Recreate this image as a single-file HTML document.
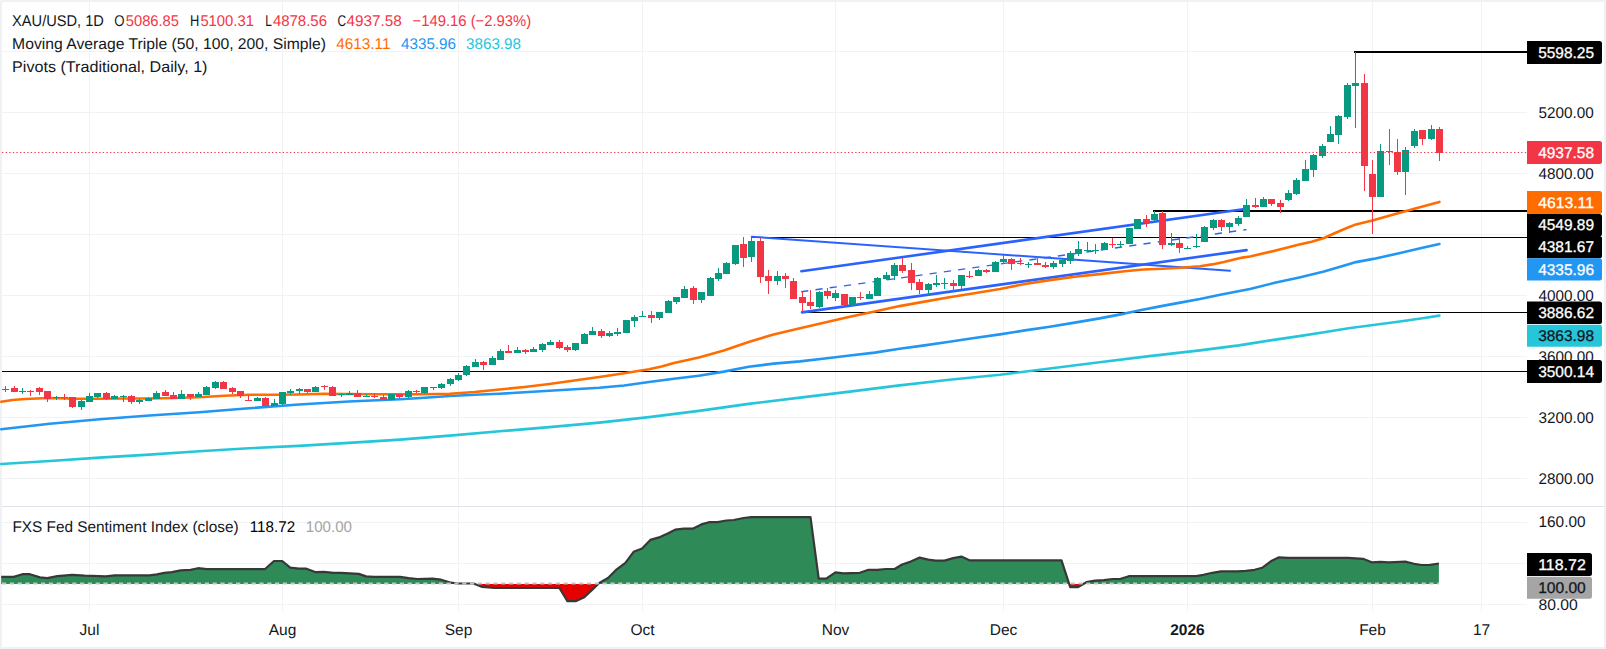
<!DOCTYPE html>
<html lang="en"><head><meta charset="utf-8"><title>XAU/USD 1D chart</title>
<style>html,body{margin:0;padding:0;background:#fff}body{width:1606px;height:649px;overflow:hidden}svg{display:block}</style>
</head><body>
<svg width="1606" height="649" viewBox="0 0 1606 649" font-family='"Liberation Sans", sans-serif' font-size="15.5" text-rendering="geometricPrecision">
<rect x="0" y="0" width="1606" height="649" fill="#eff1f5"/>
<rect x="2" y="2" width="1602" height="645" fill="#ffffff"/>
<rect x="0" y="0" width="1" height="1" fill="#f8f9fb"/>
<g stroke="#f0f2f3" stroke-width="1" shape-rendering="crispEdges">
<line x1="89.5" y1="2" x2="89.5" y2="610.5"/>
<line x1="282.5" y1="2" x2="282.5" y2="610.5"/>
<line x1="458.5" y1="2" x2="458.5" y2="610.5"/>
<line x1="642.5" y1="2" x2="642.5" y2="610.5"/>
<line x1="835.5" y1="2" x2="835.5" y2="610.5"/>
<line x1="1003.5" y1="2" x2="1003.5" y2="610.5"/>
<line x1="1187.5" y1="2" x2="1187.5" y2="610.5"/>
<line x1="1372.5" y1="2" x2="1372.5" y2="610.5"/>
<line x1="1481.5" y1="2" x2="1481.5" y2="610.5"/>
<line x1="2" y1="51.5" x2="1527" y2="51.5"/>
<line x1="2" y1="112.5" x2="1527" y2="112.5"/>
<line x1="2" y1="173.5" x2="1527" y2="173.5"/>
<line x1="2" y1="234.5" x2="1527" y2="234.5"/>
<line x1="2" y1="295.5" x2="1527" y2="295.5"/>
<line x1="2" y1="356.5" x2="1527" y2="356.5"/>
<line x1="2" y1="417.5" x2="1527" y2="417.5"/>
<line x1="2" y1="478.5" x2="1527" y2="478.5"/>
<line x1="2" y1="522" x2="1527" y2="522"/>
<line x1="2" y1="563.5" x2="1527" y2="563.5"/>
<line x1="2" y1="604.5" x2="1527" y2="604.5"/>
</g>
<line x1="2" y1="506.5" x2="1604" y2="506.5" stroke="#e0e3eb" stroke-width="1" shape-rendering="crispEdges"/>
<g stroke="#000" shape-rendering="crispEdges">
<line x1="1354" y1="52" x2="1527" y2="52" stroke-width="2"/>
<line x1="1153" y1="211" x2="1527" y2="211" stroke-width="2"/>
<line x1="751.5" y1="237.5" x2="1527" y2="237.5" stroke-width="1"/>
<line x1="802" y1="312.5" x2="1527" y2="312.5" stroke-width="1"/>
<line x1="2" y1="371.5" x2="1527" y2="371.5" stroke-width="1"/>
</g>
<g stroke="#2962ff" stroke-width="2.6" fill="none" stroke-linecap="round">
<line x1="751.7" y1="236.7" x2="1230" y2="270.8" stroke-width="2"/>
<line x1="801.4" y1="271.3" x2="1245" y2="209"/>
<line x1="802" y1="312.4" x2="1246.6" y2="250.1"/>
<line x1="801.2" y1="291.8" x2="1246.6" y2="229.6" stroke-width="1.4" stroke-dasharray="7.2 7.2" stroke-linecap="butt"/>
</g>
<path d="M1.2,464.0 L49.8,461.0 L99.6,457.6 L149.4,454.6 L199.3,451.3 L249.0,448.3 L298.9,445.9 L348.7,442.9 L400.0,439.6 L449.8,435.6 L499.6,431.3 L549.4,427.1 L599.3,422.6 L649.0,417.1 L698.9,410.9 L748.7,403.9 L800.0,397.6 L849.8,391.6 L899.6,385.4 L949.4,379.8 L1000.0,374.8 L1049.8,368.5 L1099.6,362.3 L1149.4,356.1 L1200.0,350.4 L1238.9,345.4 L1272.2,340.1 L1299.3,336.1 L1324.0,332.2 L1348.6,328.2 L1373.3,325.0 L1398.0,321.8 L1422.6,318.3 L1439.4,315.6" fill="none" stroke="#26c6da" stroke-width="2.6" stroke-linejoin="round" stroke-linecap="round"/>
<path d="M1.2,429.2 L49.8,423.7 L99.6,419.2 L149.4,415.5 L199.3,412.2 L249.0,408.2 L298.9,404.5 L348.7,401.5 L400.0,399.3 L424.9,397.7 L449.8,396.0 L474.7,394.7 L499.6,393.7 L524.5,392.2 L549.4,390.7 L574.3,389.2 L599.3,387.7 L624.2,385.5 L649.0,382.0 L674.0,378.8 L698.9,375.8 L723.8,371.6 L748.7,366.8 L773.6,363.6 L800.0,361.4 L824.9,358.5 L849.8,355.5 L874.7,352.6 L899.6,348.8 L924.5,345.4 L949.4,341.8 L974.3,338.0 L1000.0,334.4 L1024.9,330.4 L1049.8,326.7 L1074.7,322.6 L1099.6,318.4 L1124.5,313.6 L1140.1,310.2 L1160.0,306.4 L1180.2,302.6 L1200.0,299.0 L1220.2,294.8 L1250.0,289.0 L1274.7,282.8 L1299.3,277.4 L1324.0,271.5 L1348.6,264.3 L1356.0,262.1 L1373.3,258.9 L1398.0,253.5 L1422.6,247.8 L1439.4,244.1" fill="none" stroke="#2196f3" stroke-width="2.6" stroke-linejoin="round" stroke-linecap="round"/>
<path d="M1.2,401.8 L12.5,400.0 L24.9,399.0 L49.8,398.0 L74.7,398.8 L99.6,398.8 L124.5,398.5 L149.4,398.5 L174.3,398.0 L199.3,397.3 L224.2,395.8 L249.0,394.8 L274.0,394.8 L298.9,394.5 L323.8,393.8 L348.7,394.0 L373.6,394.3 L400.0,394.3 L424.9,394.2 L449.8,393.7 L474.7,392.0 L499.6,389.5 L524.5,387.0 L549.4,384.0 L574.3,380.5 L599.3,377.0 L624.2,373.3 L649.0,369.3 L661.5,366.6 L674.0,363.1 L698.9,357.4 L723.8,350.6 L748.7,341.9 L773.6,334.4 L800.0,328.3 L824.9,322.5 L849.8,316.8 L874.7,311.4 L899.6,306.1 L924.5,301.6 L949.4,297.3 L974.3,293.2 L1000.0,289.0 L1024.9,284.0 L1049.8,280.1 L1074.7,276.8 L1099.6,274.1 L1124.5,271.2 L1143.2,269.5 L1161.9,268.7 L1180.6,267.8 L1200.0,266.2 L1212.0,264.4 L1224.0,262.0 L1242.4,257.6 L1250.0,256.5 L1274.7,250.8 L1299.3,244.6 L1311.7,241.7 L1324.0,238.0 L1336.3,232.5 L1348.6,227.3 L1356.0,224.4 L1373.3,220.2 L1398.0,213.3 L1422.6,206.6 L1439.4,201.9" fill="none" stroke="#ff6d00" stroke-width="2.6" stroke-linejoin="round" stroke-linecap="round"/>
<path d="M5,386h1v6h-1zM2,389h7v1h-7zM22,388h1v6h-1zM19,391h7v1h-7zM56,396h1v4h-1zM53,397h7v1h-7zM81,400h1v10h-1zM78,401h7v6h-7zM89,393h1v9h-1zM86,396h7v6h-7zM97,393h1v5h-1zM94,393h7v4h-7zM114,395h1v4h-1zM111,396h7v3h-7zM123,395h1v7h-1zM120,396h7v1h-7zM139,399h1v5h-1zM136,400h7v2h-7zM148,397h1v4h-1zM145,398h7v3h-7zM156,391h1v8h-1zM153,393h7v6h-7zM181,390h1v9h-1zM178,394h7v5h-7zM198,392h1v5h-1zM195,394h7v3h-7zM206,386h1v9h-1zM203,387h7v8h-7zM215,381h1v8h-1zM212,382h7v6h-7zM257,397h1v4h-1zM254,398h7v3h-7zM274,399h1v7h-1zM271,403h7v3h-7zM282,392h1v13h-1zM279,392h7v12h-7zM290,389h1v6h-1zM287,391h7v2h-7zM299,388h1v6h-1zM296,389h7v2h-7zM315,386h1v6h-1zM312,387h7v5h-7zM341,393h1v4h-1zM338,394h7v1h-7zM349,391h1v4h-1zM346,393h7v2h-7zM366,394h1v3h-1zM363,396h7v1h-7zM391,394h1v6h-1zM388,394h7v6h-7zM408,390h1v8h-1zM405,391h7v6h-7zM424,387h1v7h-1zM421,387h7v6h-7zM433,387h1v3h-1zM430,387h7v1h-7zM441,383h1v6h-1zM438,384h7v4h-7zM450,378h1v8h-1zM447,379h7v5h-7zM458,373h1v8h-1zM455,375h7v5h-7zM466,365h1v11h-1zM463,366h7v9h-7zM475,359h1v8h-1zM472,362h7v5h-7zM492,356h1v9h-1zM489,358h7v7h-7zM500,349h1v11h-1zM497,351h7v9h-7zM517,347h1v6h-1zM514,350h7v3h-7zM533,347h1v5h-1zM530,349h7v3h-7zM542,343h1v9h-1zM539,344h7v6h-7zM550,340h1v5h-1zM547,342h7v3h-7zM575,343h1v8h-1zM572,343h7v7h-7zM584,333h1v11h-1zM581,334h7v10h-7zM592,327h1v8h-1zM589,331h7v4h-7zM609,331h1v6h-1zM606,333h7v3h-7zM617,328h1v8h-1zM614,332h7v2h-7zM626,320h1v13h-1zM623,320h7v13h-7zM634,315h1v12h-1zM631,317h7v4h-7zM642,311h1v6h-1zM639,316h7v1h-7zM659,312h1v8h-1zM656,312h7v6h-7zM668,300h1v13h-1zM665,301h7v12h-7zM676,297h1v7h-1zM673,297h7v5h-7zM684,286h1v12h-1zM681,289h7v9h-7zM701,292h1v11h-1zM698,292h7v8h-7zM710,277h1v19h-1zM707,278h7v18h-7zM718,268h1v13h-1zM715,273h7v6h-7zM726,262h1v12h-1zM723,263h7v11h-7zM735,245h1v20h-1zM732,245h7v19h-7zM751,236h1v26h-1zM748,241h7v16h-7zM777,271h1v14h-1zM774,276h7v5h-7zM819,291h1v17h-1zM816,292h7v15h-7zM835,290h1v11h-1zM832,293h7v5h-7zM852,297h1v9h-1zM849,297h7v8h-7zM869,291h1v8h-1zM866,294h7v5h-7zM877,277h1v19h-1zM874,278h7v18h-7zM886,272h1v8h-1zM883,275h7v4h-7zM894,263h1v17h-1zM891,265h7v11h-7zM928,283h1v12h-1zM925,284h7v6h-7zM936,275h1v12h-1zM933,283h7v2h-7zM944,278h1v11h-1zM941,283h7v1h-7zM961,275h1v14h-1zM958,275h7v11h-7zM978,269h1v7h-1zM975,270h7v6h-7zM995,261h1v11h-1zM992,262h7v10h-7zM1003,255h1v9h-1zM1000,259h7v3h-7zM1028,262h1v6h-1zM1025,264h7v1h-7zM1053,261h1v8h-1zM1050,263h7v4h-7zM1062,259h1v8h-1zM1059,260h7v4h-7zM1070,251h1v13h-1zM1067,253h7v8h-7zM1078,241h1v15h-1zM1075,249h7v5h-7zM1087,242h1v10h-1zM1084,250h7v1h-7zM1095,244h1v10h-1zM1092,250h7v1h-7zM1104,242h1v8h-1zM1101,243h7v7h-7zM1120,241h1v7h-1zM1117,244h7v1h-7zM1129,228h1v16h-1zM1126,228h7v16h-7zM1137,219h1v10h-1zM1134,219h7v10h-7zM1154,211h1v11h-1zM1151,214h7v6h-7zM1171,233h1v13h-1zM1168,243h7v2h-7zM1187,246h1v3h-1zM1184,248h7v1h-7zM1196,234h1v14h-1zM1193,246h7v1h-7zM1204,226h1v16h-1zM1201,227h7v15h-7zM1213,219h1v11h-1zM1210,220h7v8h-7zM1229,222h1v11h-1zM1226,223h7v4h-7zM1238,216h1v10h-1zM1235,218h7v6h-7zM1246,199h1v18h-1zM1243,205h7v12h-7zM1263,197h1v10h-1zM1260,199h7v8h-7zM1288,190h1v11h-1zM1285,193h7v7h-7zM1296,178h1v17h-1zM1293,180h7v14h-7zM1305,160h1v21h-1zM1302,169h7v12h-7zM1313,154h1v23h-1zM1310,155h7v15h-7zM1322,144h1v14h-1zM1319,146h7v10h-7zM1330,126h1v16h-1zM1327,134h7v8h-7zM1338,115h1v29h-1zM1335,116h7v19h-7zM1347,83h1v36h-1zM1344,85h7v32h-7zM1355,52h1v76h-1zM1352,83h7v3h-7zM1380,144h1v53h-1zM1377,151h7v46h-7zM1405,147h1v48h-1zM1402,150h7v22h-7zM1414,129h1v19h-1zM1411,131h7v15h-7zM1431,125h1v15h-1zM1428,129h7v10h-7z" fill="#089981" shape-rendering="crispEdges"/>
<path d="M14,386h1v6h-1zM11,388h7v4h-7zM30,390h1v6h-1zM27,391h7v1h-7zM39,387h1v8h-1zM36,388h7v4h-7zM47,391h1v11h-1zM44,391h7v8h-7zM64,394h1v6h-1zM61,397h7v1h-7zM72,397h1v11h-1zM69,397h7v10h-7zM106,392h1v8h-1zM103,393h7v6h-7zM131,395h1v9h-1zM128,396h7v6h-7zM165,390h1v6h-1zM162,392h7v4h-7zM173,392h1v7h-1zM170,395h7v4h-7zM190,394h1v6h-1zM187,394h7v3h-7zM223,381h1v8h-1zM220,382h7v7h-7zM232,387h1v7h-1zM229,388h7v4h-7zM240,391h1v7h-1zM237,391h7v5h-7zM248,395h1v6h-1zM245,400h7v1h-7zM265,397h1v10h-1zM262,398h7v8h-7zM307,389h1v4h-1zM304,389h7v3h-7zM324,385h1v5h-1zM321,386h7v1h-7zM332,386h1v10h-1zM329,387h7v9h-7zM357,390h1v7h-1zM354,393h7v4h-7zM374,393h1v5h-1zM371,396h7v1h-7zM383,395h1v5h-1zM380,397h7v3h-7zM399,394h1v4h-1zM396,394h7v3h-7zM416,390h1v3h-1zM413,391h7v1h-7zM483,361h1v9h-1zM480,362h7v3h-7zM508,345h1v8h-1zM505,351h7v2h-7zM525,349h1v5h-1zM522,350h7v2h-7zM559,340h1v9h-1zM556,342h7v6h-7zM567,345h1v7h-1zM564,347h7v3h-7zM601,329h1v9h-1zM598,331h7v5h-7zM651,311h1v12h-1zM648,315h7v3h-7zM693,286h1v18h-1zM690,288h7v12h-7zM743,237h1v30h-1zM740,244h7v14h-7zM760,238h1v45h-1zM757,241h7v36h-7zM768,270h1v24h-1zM765,276h7v5h-7zM785,273h1v15h-1zM782,276h7v3h-7zM793,278h1v21h-1zM790,281h7v18h-7zM802,292h1v20h-1zM799,297h7v6h-7zM810,290h1v19h-1zM807,302h7v4h-7zM827,288h1v11h-1zM824,291h7v5h-7zM844,294h1v12h-1zM841,294h7v11h-7zM860,292h1v8h-1zM857,297h7v1h-7zM902,258h1v15h-1zM899,265h7v6h-7zM911,263h1v27h-1zM908,270h7v13h-7zM919,279h1v15h-1zM916,282h7v8h-7zM953,280h1v12h-1zM950,283h7v3h-7zM969,271h1v7h-1zM966,276h7v1h-7zM986,269h1v4h-1zM983,270h7v2h-7zM1011,258h1v12h-1zM1008,259h7v5h-7zM1020,258h1v7h-1zM1017,263h7v1h-7zM1037,256h1v9h-1zM1034,263h7v2h-7zM1045,262h1v6h-1zM1042,265h7v2h-7zM1112,238h1v10h-1zM1109,244h7v1h-7zM1146,215h1v12h-1zM1143,219h7v4h-7zM1162,211h1v38h-1zM1159,213h7v32h-7zM1179,238h1v15h-1zM1176,243h7v5h-7zM1221,219h1v12h-1zM1218,220h7v7h-7zM1255,198h1v10h-1zM1252,205h7v2h-7zM1271,199h1v7h-1zM1268,199h7v5h-7zM1280,200h1v13h-1zM1277,203h7v4h-7zM1364,74h1v117h-1zM1361,83h7v83h-7zM1372,160h1v74h-1zM1369,174h7v23h-7zM1389,129h1v36h-1zM1386,151h7v1h-7zM1397,139h1v36h-1zM1394,152h7v20h-7zM1422,130h1v15h-1zM1419,130h7v9h-7zM1439,127h1v34h-1zM1436,129h7v24h-7z" fill="#f23645" shape-rendering="crispEdges"/>
<line x1="2" y1="152.5" x2="1527" y2="152.5" stroke="#f23645" stroke-width="1.2" stroke-dasharray="1.3 2.3"/>
<clipPath id="ca"><rect x="0" y="500" width="1606" height="84"/></clipPath>
<clipPath id="cb"><rect x="0" y="584" width="1606" height="40"/></clipPath>
<path d="M1.2,576.9 L13.7,576.9 L22.4,574.2 L29.9,574.2 L39.9,577.4 L47.3,578.1 L57.3,576.2 L72.2,574.9 L84.7,575.7 L105.9,576.4 L114.6,575.4 L149.4,575.4 L156.9,574.4 L164.4,572.9 L171.9,572.2 L180.6,570.4 L190.5,569.9 L198.0,568.2 L206.7,569.2 L264.8,569.2 L274.0,561.0 L282.2,561.0 L290.2,567.7 L298.9,568.7 L306.4,568.7 L315.8,572.2 L323.8,571.9 L333.7,572.9 L341.2,572.9 L358.7,573.9 L366.1,576.4 L373.6,576.9 L400.0,576.9 L408.7,578.2 L417.4,579.0 L432.4,578.7 L441.1,579.7 L451.1,582.7 L457.3,583.5 L473.5,583.5 L482.2,587.0 L494.6,588.0 L559.4,588.0 L567.4,601.2 L575.6,601.2 L584.3,597.2 L591.8,590.2 L599.3,583.0 L608.0,578.0 L616.7,569.3 L625.4,562.8 L633.6,551.8 L642.1,548.4 L650.3,539.9 L659.0,537.4 L667.7,533.4 L675.2,529.7 L683.9,528.7 L692.7,528.7 L701.4,524.4 L708.8,522.2 L717.6,522.2 L726.3,520.5 L733.7,520.0 L743.7,518.0 L751.2,517.2 L800.0,517.2 L810.5,517.2 L818.7,578.7 L826.2,578.7 L835.4,572.3 L843.6,573.3 L859.8,572.8 L868.5,569.8 L877.2,569.8 L885.9,569.0 L894.6,569.0 L902.1,564.5 L910.8,561.6 L919.6,557.6 L928.3,559.6 L935.7,560.6 L944.5,560.6 L953.2,558.1 L961.4,556.6 L969.4,560.3 L1061.5,560.3 L1070.2,587.2 L1077.7,587.2 L1086.4,582.2 L1095.1,580.7 L1103.9,580.2 L1112.6,579.0 L1120.0,579.0 L1128.8,576.2 L1196.1,576.2 L1203.5,574.8 L1212.3,572.8 L1221.0,571.3 L1237.2,571.3 L1245.9,570.8 L1254.6,569.8 L1262.1,567.8 L1270.8,561.3 L1279.0,557.3 L1288.2,557.8 L1348.0,557.8 L1363.0,558.8 L1371.7,562.3 L1380.4,561.8 L1389.1,562.3 L1405.3,561.6 L1414.0,563.8 L1421.5,565.0 L1430.2,564.8 L1438.9,563.5 L1438.9,584 L1.2,584 Z" fill="#2e8b57" clip-path="url(#ca)"/>
<path d="M1.2,576.9 L13.7,576.9 L22.4,574.2 L29.9,574.2 L39.9,577.4 L47.3,578.1 L57.3,576.2 L72.2,574.9 L84.7,575.7 L105.9,576.4 L114.6,575.4 L149.4,575.4 L156.9,574.4 L164.4,572.9 L171.9,572.2 L180.6,570.4 L190.5,569.9 L198.0,568.2 L206.7,569.2 L264.8,569.2 L274.0,561.0 L282.2,561.0 L290.2,567.7 L298.9,568.7 L306.4,568.7 L315.8,572.2 L323.8,571.9 L333.7,572.9 L341.2,572.9 L358.7,573.9 L366.1,576.4 L373.6,576.9 L400.0,576.9 L408.7,578.2 L417.4,579.0 L432.4,578.7 L441.1,579.7 L451.1,582.7 L457.3,583.5 L473.5,583.5 L482.2,587.0 L494.6,588.0 L559.4,588.0 L567.4,601.2 L575.6,601.2 L584.3,597.2 L591.8,590.2 L599.3,583.0 L608.0,578.0 L616.7,569.3 L625.4,562.8 L633.6,551.8 L642.1,548.4 L650.3,539.9 L659.0,537.4 L667.7,533.4 L675.2,529.7 L683.9,528.7 L692.7,528.7 L701.4,524.4 L708.8,522.2 L717.6,522.2 L726.3,520.5 L733.7,520.0 L743.7,518.0 L751.2,517.2 L800.0,517.2 L810.5,517.2 L818.7,578.7 L826.2,578.7 L835.4,572.3 L843.6,573.3 L859.8,572.8 L868.5,569.8 L877.2,569.8 L885.9,569.0 L894.6,569.0 L902.1,564.5 L910.8,561.6 L919.6,557.6 L928.3,559.6 L935.7,560.6 L944.5,560.6 L953.2,558.1 L961.4,556.6 L969.4,560.3 L1061.5,560.3 L1070.2,587.2 L1077.7,587.2 L1086.4,582.2 L1095.1,580.7 L1103.9,580.2 L1112.6,579.0 L1120.0,579.0 L1128.8,576.2 L1196.1,576.2 L1203.5,574.8 L1212.3,572.8 L1221.0,571.3 L1237.2,571.3 L1245.9,570.8 L1254.6,569.8 L1262.1,567.8 L1270.8,561.3 L1279.0,557.3 L1288.2,557.8 L1348.0,557.8 L1363.0,558.8 L1371.7,562.3 L1380.4,561.8 L1389.1,562.3 L1405.3,561.6 L1414.0,563.8 L1421.5,565.0 L1430.2,564.8 L1438.9,563.5 L1438.9,584 L1.2,584 Z" fill="#e60000" clip-path="url(#cb)"/>
<path d="M1.2,576.9 L13.7,576.9 L22.4,574.2 L29.9,574.2 L39.9,577.4 L47.3,578.1 L57.3,576.2 L72.2,574.9 L84.7,575.7 L105.9,576.4 L114.6,575.4 L149.4,575.4 L156.9,574.4 L164.4,572.9 L171.9,572.2 L180.6,570.4 L190.5,569.9 L198.0,568.2 L206.7,569.2 L264.8,569.2 L274.0,561.0 L282.2,561.0 L290.2,567.7 L298.9,568.7 L306.4,568.7 L315.8,572.2 L323.8,571.9 L333.7,572.9 L341.2,572.9 L358.7,573.9 L366.1,576.4 L373.6,576.9 L400.0,576.9 L408.7,578.2 L417.4,579.0 L432.4,578.7 L441.1,579.7 L451.1,582.7 L457.3,583.5 L473.5,583.5 L482.2,587.0 L494.6,588.0 L559.4,588.0 L567.4,601.2 L575.6,601.2 L584.3,597.2 L591.8,590.2 L599.3,583.0 L608.0,578.0 L616.7,569.3 L625.4,562.8 L633.6,551.8 L642.1,548.4 L650.3,539.9 L659.0,537.4 L667.7,533.4 L675.2,529.7 L683.9,528.7 L692.7,528.7 L701.4,524.4 L708.8,522.2 L717.6,522.2 L726.3,520.5 L733.7,520.0 L743.7,518.0 L751.2,517.2 L800.0,517.2 L810.5,517.2 L818.7,578.7 L826.2,578.7 L835.4,572.3 L843.6,573.3 L859.8,572.8 L868.5,569.8 L877.2,569.8 L885.9,569.0 L894.6,569.0 L902.1,564.5 L910.8,561.6 L919.6,557.6 L928.3,559.6 L935.7,560.6 L944.5,560.6 L953.2,558.1 L961.4,556.6 L969.4,560.3 L1061.5,560.3 L1070.2,587.2 L1077.7,587.2 L1086.4,582.2 L1095.1,580.7 L1103.9,580.2 L1112.6,579.0 L1120.0,579.0 L1128.8,576.2 L1196.1,576.2 L1203.5,574.8 L1212.3,572.8 L1221.0,571.3 L1237.2,571.3 L1245.9,570.8 L1254.6,569.8 L1262.1,567.8 L1270.8,561.3 L1279.0,557.3 L1288.2,557.8 L1348.0,557.8 L1363.0,558.8 L1371.7,562.3 L1380.4,561.8 L1389.1,562.3 L1405.3,561.6 L1414.0,563.8 L1421.5,565.0 L1430.2,564.8 L1438.9,563.5" fill="none" stroke="#383838" stroke-width="2.2" stroke-linejoin="round"/>
<line x1="2" y1="583.5" x2="1439" y2="583.5" stroke="#c4c4c4" stroke-width="1.8" stroke-dasharray="4.2 3.6"/>
<text x="1538.5" y="117.8" fill="#131722" textLength="55.2" lengthAdjust="spacingAndGlyphs">5200.00</text>
<text x="1538.5" y="178.8" fill="#131722" textLength="55.2" lengthAdjust="spacingAndGlyphs">4800.00</text>
<text x="1538.5" y="300.8" fill="#131722" textLength="55.2" lengthAdjust="spacingAndGlyphs">4000.00</text>
<text x="1538.5" y="361.8" fill="#131722" textLength="55.2" lengthAdjust="spacingAndGlyphs">3600.00</text>
<text x="1538.5" y="422.8" fill="#131722" textLength="55.2" lengthAdjust="spacingAndGlyphs">3200.00</text>
<text x="1538.5" y="483.8" fill="#131722" textLength="55.2" lengthAdjust="spacingAndGlyphs">2800.00</text>
<text x="1538.5" y="527.0999999999999" fill="#131722" textLength="47.0" lengthAdjust="spacingAndGlyphs">160.00</text>
<text x="1538.5" y="609.8" fill="#131722" textLength="39.3" lengthAdjust="spacingAndGlyphs">80.00</text>
<path d="M1527,41H1599.5Q1602,41 1602,43.5V61.5Q1602,64 1599.5,64H1527Z" fill="#000"/>
<text x="1538.2" y="57.9" fill="#fff" textLength="55.8" lengthAdjust="spacingAndGlyphs" stroke="#fff" stroke-width="0.3">5598.25</text>
<path d="M1527,141H1599.5Q1602,141 1602,143.5V161.5Q1602,164 1599.5,164H1527Z" fill="#f23645"/>
<text x="1538.2" y="157.9" fill="#fff" textLength="55.8" lengthAdjust="spacingAndGlyphs" stroke="#fff" stroke-width="0.3">4937.58</text>
<path d="M1527,191H1599.5Q1602,191 1602,193.5V211.5Q1602,214 1599.5,214H1527Z" fill="#ff6d00"/>
<text x="1538.2" y="207.9" fill="#fff" textLength="55.8" lengthAdjust="spacingAndGlyphs" stroke="#fff" stroke-width="0.3">4613.11</text>
<path d="M1527,214H1599.5Q1602,214 1602,216.5V233.7Q1602,236.2 1599.5,236.2H1527Z" fill="#000"/>
<text x="1538.2" y="230.0" fill="#fff" textLength="55.8" lengthAdjust="spacingAndGlyphs" stroke="#fff" stroke-width="0.3">4549.89</text>
<path d="M1527,236H1599.5Q1602,236 1602,238.5V255.7Q1602,258.2 1599.5,258.2H1527Z" fill="#000"/>
<text x="1538.2" y="251.70000000000002" fill="#fff" textLength="55.8" lengthAdjust="spacingAndGlyphs" stroke="#fff" stroke-width="0.3">4381.67</text>
<path d="M1527,258.2H1599.5Q1602,258.2 1602,260.7V278.0Q1602,280.5 1599.5,280.5H1527Z" fill="#2196f3"/>
<text x="1538.2" y="274.75" fill="#fff" textLength="55.8" lengthAdjust="spacingAndGlyphs" stroke="#fff" stroke-width="0.3">4335.96</text>
<path d="M1527,301.4H1599.5Q1602,301.4 1602,303.9V321.5Q1602,324 1599.5,324H1527Z" fill="#000"/>
<text x="1538.2" y="318.09999999999997" fill="#fff" textLength="55.8" lengthAdjust="spacingAndGlyphs" stroke="#fff" stroke-width="0.3">3886.62</text>
<path d="M1527,324.7H1599.5Q1602,324.7 1602,327.2V344.3Q1602,346.8 1599.5,346.8H1527Z" fill="#26c6da"/>
<text x="1538.2" y="341.15" fill="#131722" textLength="55.8" lengthAdjust="spacingAndGlyphs" stroke="#131722" stroke-width="0.3">3863.98</text>
<path d="M1527,360H1599.5Q1602,360 1602,362.5V380.5Q1602,383 1599.5,383H1527Z" fill="#000"/>
<text x="1538.2" y="376.9" fill="#fff" textLength="55.8" lengthAdjust="spacingAndGlyphs" stroke="#fff" stroke-width="0.3">3500.14</text>
<path d="M1527,553H1589.5Q1592,553 1592,555.5V573.5Q1592,576 1589.5,576H1527Z" fill="#000"/>
<text x="1538.2" y="569.9" fill="#fff" textLength="47.6" lengthAdjust="spacingAndGlyphs" stroke="#fff" stroke-width="0.3">118.72</text>
<path d="M1527,576.7H1589.5Q1592,576.7 1592,579.2V596.3Q1592,598.8 1589.5,598.8H1527Z" fill="#a5a5a5"/>
<text x="1538.2" y="593.15" fill="#131722" textLength="47.6" lengthAdjust="spacingAndGlyphs" stroke="#131722" stroke-width="0.3">100.00</text>
<text x="12.1" y="25.9" fill="#131722" textLength="91.8" lengthAdjust="spacingAndGlyphs">XAU/USD, 1D</text>
<text x="114.3" y="25.9" fill="#131722" textLength="10.3" lengthAdjust="spacingAndGlyphs">O</text>
<text x="125.8" y="25.9" fill="#f23645" textLength="53.2" lengthAdjust="spacingAndGlyphs">5086.85</text>
<text x="190" y="25.9" fill="#131722" textLength="9.3" lengthAdjust="spacingAndGlyphs">H</text>
<text x="200.4" y="25.9" fill="#f23645" textLength="53.5" lengthAdjust="spacingAndGlyphs">5100.31</text>
<text x="265.3" y="25.9" fill="#131722" textLength="6.6" lengthAdjust="spacingAndGlyphs">L</text>
<text x="272.9" y="25.9" fill="#f23645" textLength="54.1" lengthAdjust="spacingAndGlyphs">4878.56</text>
<text x="337.4" y="25.9" fill="#131722" textLength="8.6" lengthAdjust="spacingAndGlyphs">C</text>
<text x="346.4" y="25.9" fill="#f23645" textLength="55.3" lengthAdjust="spacingAndGlyphs">4937.58</text>
<text x="412.5" y="25.9" fill="#f23645" textLength="118.7" lengthAdjust="spacingAndGlyphs">−149.16 (−2.93%)</text>
<text x="12.1" y="48.8" fill="#131722" textLength="313.9" lengthAdjust="spacingAndGlyphs">Moving Average Triple (50, 100, 200, Simple)</text>
<text x="336.3" y="48.8" fill="#ff6d00" textLength="54.2" lengthAdjust="spacingAndGlyphs">4613.11</text>
<text x="401" y="48.8" fill="#2196f3" textLength="55.0" lengthAdjust="spacingAndGlyphs">4335.96</text>
<text x="466" y="48.8" fill="#26c6da" textLength="55.0" lengthAdjust="spacingAndGlyphs">3863.98</text>
<text x="12.1" y="71.8" fill="#131722" textLength="195.4" lengthAdjust="spacingAndGlyphs">Pivots (Traditional, Daily, 1)</text>
<text x="12.4" y="531.9" fill="#131722" textLength="226.2" lengthAdjust="spacingAndGlyphs">FXS Fed Sentiment Index (close)</text>
<text x="249.8" y="531.9" fill="#000" textLength="45.3" lengthAdjust="spacingAndGlyphs">118.72</text>
<text x="305.8" y="531.9" fill="#a5a5a5" textLength="46.2" lengthAdjust="spacingAndGlyphs">100.00</text>
<text x="89.5" y="634.8" fill="#131722" text-anchor="middle">Jul</text>
<text x="282.5" y="634.8" fill="#131722" text-anchor="middle">Aug</text>
<text x="458.5" y="634.8" fill="#131722" text-anchor="middle">Sep</text>
<text x="642.5" y="634.8" fill="#131722" text-anchor="middle">Oct</text>
<text x="835.5" y="634.8" fill="#131722" text-anchor="middle">Nov</text>
<text x="1003.5" y="634.8" fill="#131722" text-anchor="middle">Dec</text>
<text x="1187.5" y="634.8" fill="#131722" font-weight="bold" text-anchor="middle">2026</text>
<text x="1372.5" y="634.8" fill="#131722" text-anchor="middle">Feb</text>
<text x="1481.5" y="634.8" fill="#131722" text-anchor="middle">17</text>
</svg>
</body></html>
